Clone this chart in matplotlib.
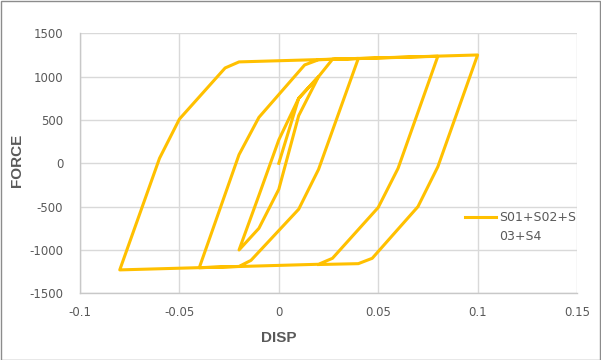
import matplotlib
matplotlib.use("Agg")
import matplotlib.pyplot as plt
from matplotlib.patches import Rectangle

# Data (hysteresis path, in drawing order)
disp = [0, 0.01, 0.02, 0.01, 0, -0.01, -0.02, -0.01, 0, 0.01, 0.02, 0.027, 0.04,
        0.02, 0.01, -0.014, -0.02, -0.04, -0.02, -0.01, 0.013, 0.02, 0.08,
        0.06, 0.05, 0.027, 0.02, -0.08, -0.06, -0.05, -0.027, -0.02, 0.1,
        0.08, 0.07, 0.047, 0.04, 0.02]
force = [0, 750, 1000, 550, -300, -750, -1000, -370, 270, 750, 1000, 1200, 1210,
         -70, -530, -1120, -1190, -1205, 100, 530, 1135, 1195, 1235,
         -58, -510, -1096, -1165, -1230, 58, 510, 1100, 1170, 1250,
         -40, -500, -1096, -1158, -1168]
series_name = "S01+S02+S\n03+S4"

x_ticks = [-0.1, -0.05, 0, 0.05, 0.1, 0.15]
x_tick_labels = ["-0.1", "-0.05", "0", "0.05", "0.1", "0.15"]
y_ticks = [-1500, -1000, -500, 0, 500, 1000, 1500]
y_tick_labels = ["-1500", "-1000", "-500", "0", "500", "1000", "1500"]

plt.rcParams['font.family'] = ['DejaVu Sans']
fig = plt.figure(figsize=(6.01, 3.60), dpi=100)
ax = fig.add_axes([80 / 601, 1 - 293.3 / 360, (577 - 80) / 601, (293.3 - 33.3) / 360])

line, = ax.plot(disp, force, color="#FFC000", lw=2.2, solid_joinstyle="round",
                label=series_name, zorder=3)

ax.set_xlim(-0.1, 0.15)
ax.set_ylim(-1500, 1500)
ax.set_xticks(x_ticks)
ax.set_xticklabels(x_tick_labels)
ax.set_yticks(y_ticks)
ax.set_yticklabels(y_tick_labels)
ax.tick_params(length=0, colors="#595959", labelsize=8.5)
ax.tick_params(axis="y", pad=12)
ax.tick_params(axis="x", pad=9)
ax.grid(True, color="#d9d9d9", lw=1)
ax.set_axisbelow(True)
for s in ["top", "right"]:
    ax.spines[s].set_visible(False)
for s in ["left", "bottom"]:
    ax.spines[s].set_color("#c8c8c8")
    ax.spines[s].set_linewidth(1)

ax.set_xlabel("DISP", fontsize=11, fontweight="bold", color="#595959",
              family="Liberation Sans")
ax.set_ylabel("FORCE", fontsize=11, fontweight="bold", color="#595959",
              family="Liberation Sans")
ax.xaxis.set_label_coords((278.5 - 80) / 497, (293.3 - 331) / 260)
ax.yaxis.set_label_coords((23.5 - 80) / 497, 0.51)

leg = ax.legend(handles=[line], loc="upper left", bbox_to_anchor=(0.774, 0.318),
                frameon=False, fontsize=9, handlelength=2.5, handletextpad=0.25,
                borderpad=0, borderaxespad=0)
for t in leg.get_texts():
    t.set_color("#595959")
    t.set_linespacing(1.65)
h = leg.legend_handles[0]
yd = h.get_ydata()
h.set_ydata([v + 7.5 for v in yd])

fig.patches.append(Rectangle((0.5 / 601, 0.5 / 360), 1 - 1.5 / 601, 1 - 1.5 / 360,
                             transform=fig.transFigure, fill=False,
                             edgecolor="#8c8c8c", lw=1))

fig.savefig("out.png", dpi=100)
